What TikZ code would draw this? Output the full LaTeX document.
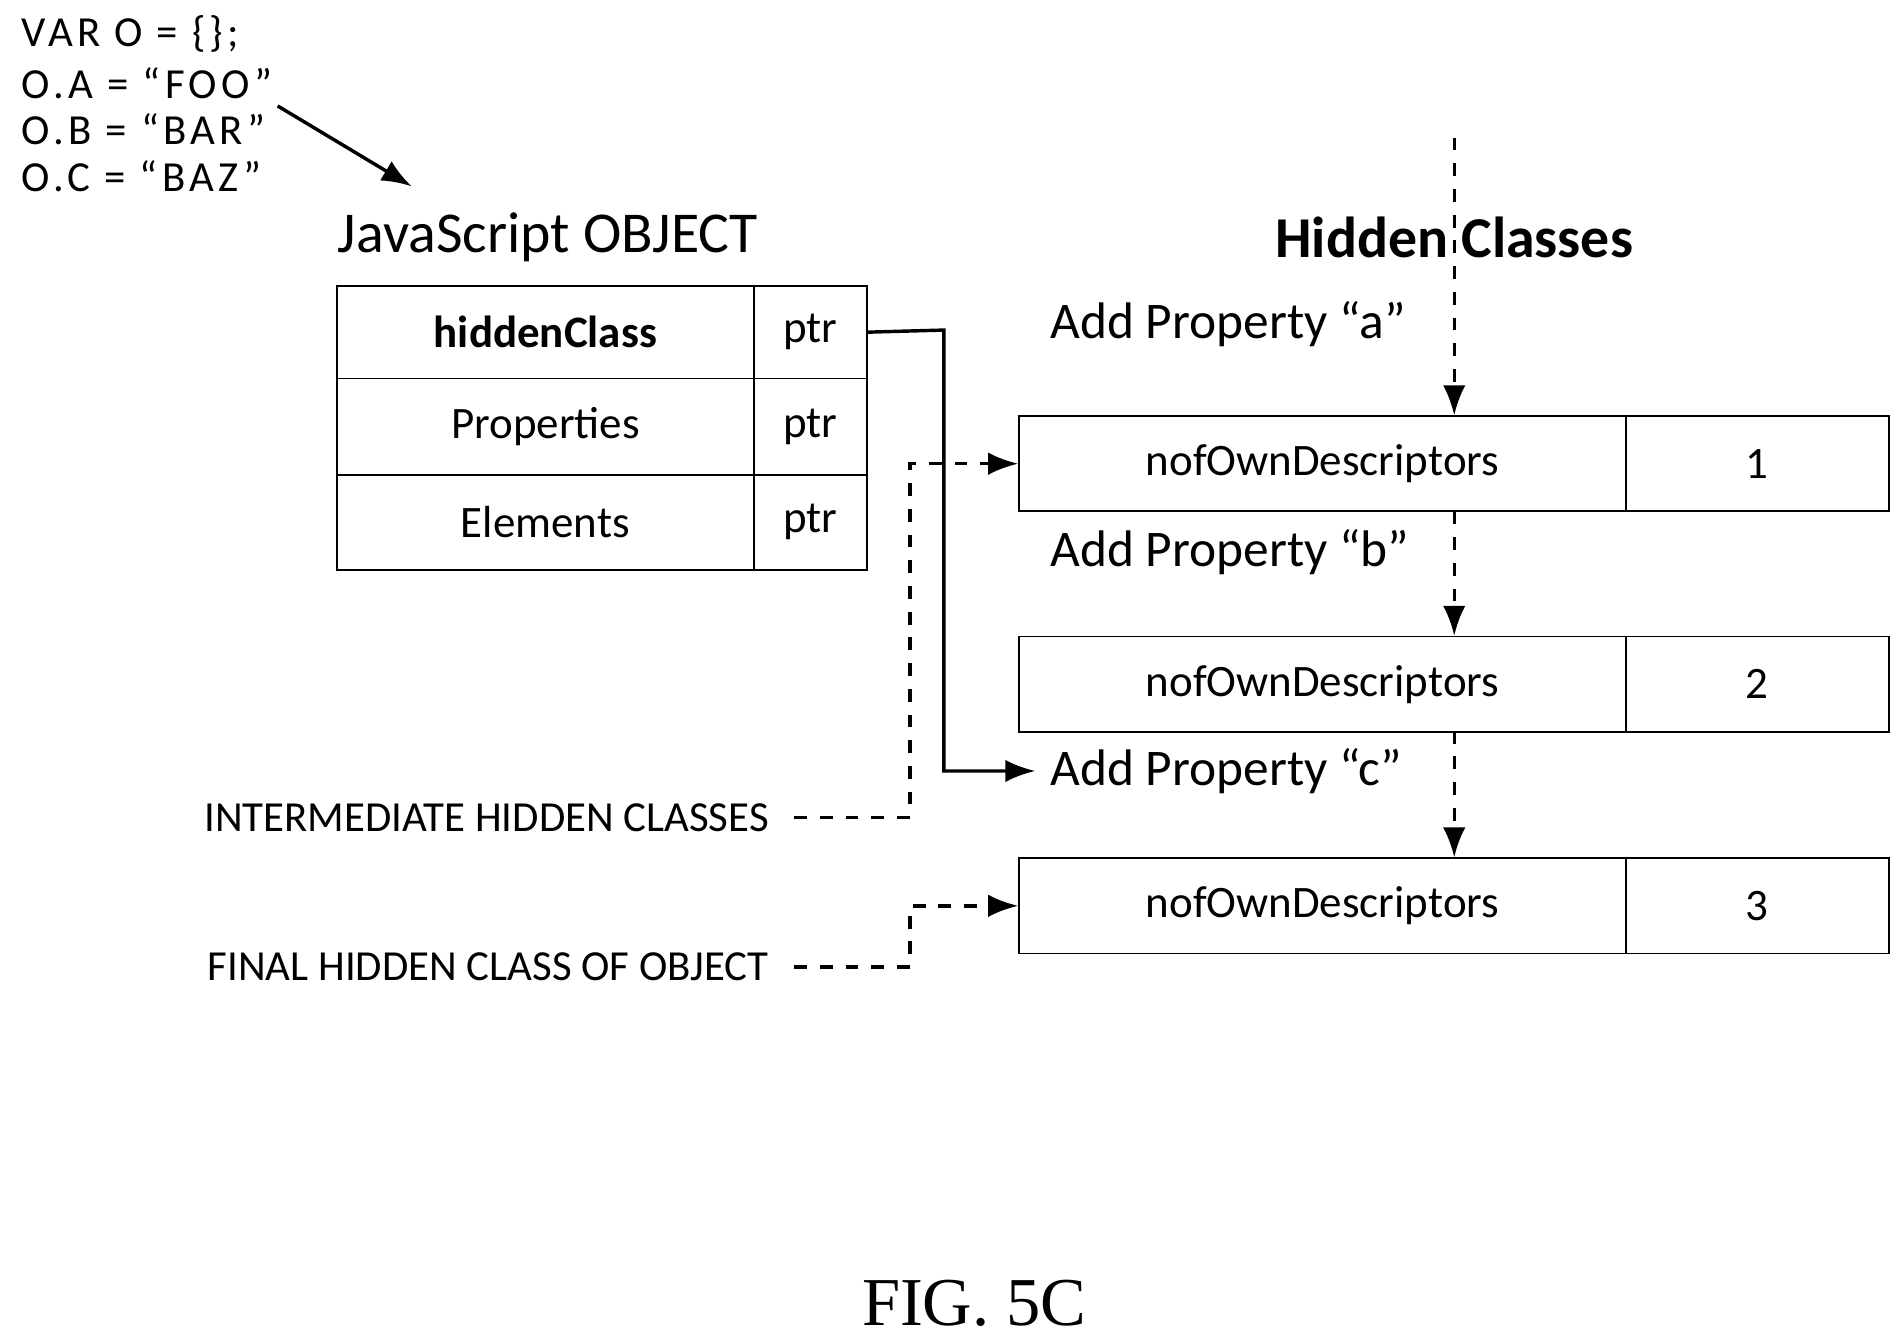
\documentclass[tikz,border=0pt]{standalone}
\usepackage{fontspec}
\setmainfont{Carlito}
\newfontfamily\figfont{Liberation Serif}
\usetikzlibrary{positioning, arrows.meta}

\begin{document}
\begin{tikzpicture}[x=0.01cm, y=-0.01cm]
 \tikzset{cell/.style={draw, thin, inner sep=0pt, anchor=north west, font=\fontsize{10.5}{13}\selectfont}}
 \tikzset{line/.style={draw, thick, -{Latex[length=7pt]}}}
 \tikzset{dline/.style={draw, thick, dashed, -{Latex[length=7pt]}}}
 \tikzset{code/.style={anchor=west, inner sep=0pt, font=\fontsize{10}{12}\selectfont\addfontfeature{LetterSpace=10}}}
 \tikzset{addprop/.style={anchor=west, font=\fontsize{12}{14}\selectfont}}
 \useasboundingbox (0,0) rectangle (1560,1100);

 % code
 \node[code] (c1) at (17,28) {VAR O = \{\};};
 \node[code] (c2) at (17,68) {O.A = “FOO”};
 \node[code] (c3) at (17,106) {O.B = “BAR”};
 \node[code] (c4) at (17,145) {O.C = “BAZ”};
 \coordinate (cs) at (228,87);
 \coordinate (ce) at (338,153);
 \path[line] (cs) -- (ce);

 % object
 \node[font=\fontsize{13.5}{16}\selectfont] (objt) at (450,195) {JavaScript OBJECT};
 \node[cell, minimum width=3.42cm, minimum height=0.76cm] (hc) at (276,234) {\textbf{hiddenClass}};
 \node[cell, minimum width=0.93cm, minimum height=0.76cm] (hcp) at (618,234) {ptr};
 \node[cell, minimum width=3.42cm, minimum height=0.79cm] (pr) at (276,310) {Properties};
 \node[cell, minimum width=0.93cm, minimum height=0.79cm] (prp) at (618,310) {ptr};
 \node[cell, minimum width=3.42cm, minimum height=0.78cm] (el) at (276,389) {Elements};
 \node[cell, minimum width=0.93cm, minimum height=0.78cm] (elp) at (618,389) {ptr};

 % hidden classes
 \node[font=\bfseries\fontsize{13.5}{16}\selectfont] (hct) at (1194,195) {Hidden Classes};
 \foreach \i/\y in {1/341, 2/522, 3/704} {
   \node[cell, minimum width=4.98cm, minimum height=0.78cm] (d\i) at (836,\y) {nofOwnDescriptors};
   \node[cell, minimum width=2.16cm, minimum height=0.78cm] (n\i) at (1334,\y) {\i};
 }
 \node[addprop] (pa) at (850,266) {Add Property “a”};
 \node[addprop] (pb) at (850,453) {Add Property “b”};
 \node[addprop] (pc) at (850,633) {Add Property “c”};

 \coordinate (top) at (1194,113);
 \path[dline] (top) -- (1194,341);
 \path[dline] (1194,420) -- (1194,522);
 \path[dline] (1194,600) -- (1194,704);

 % pointer
 \path[line] (hcp.east) -- (775,271) |- (pc.west);

 % labels
 \node[anchor=east, inner sep=0pt, font=\fontsize{10}{12}\selectfont] (inter) at (632,671) {INTERMEDIATE HIDDEN CLASSES};
 \node[anchor=east, inner sep=0pt, font=\fontsize{10}{12}\selectfont] (fin) at (632,794) {FINAL HIDDEN CLASS OF OBJECT};
 \path[dline] (652,671) -- (747,671) |- (d1.west);
 \path[dline] (652,794) -- (747,794) |- (d3.west);

 \node[font=\figfont\fontsize{16}{19}\selectfont] (fig) at (800,1070) {FIG. 5C};
\end{tikzpicture}
\end{document}
